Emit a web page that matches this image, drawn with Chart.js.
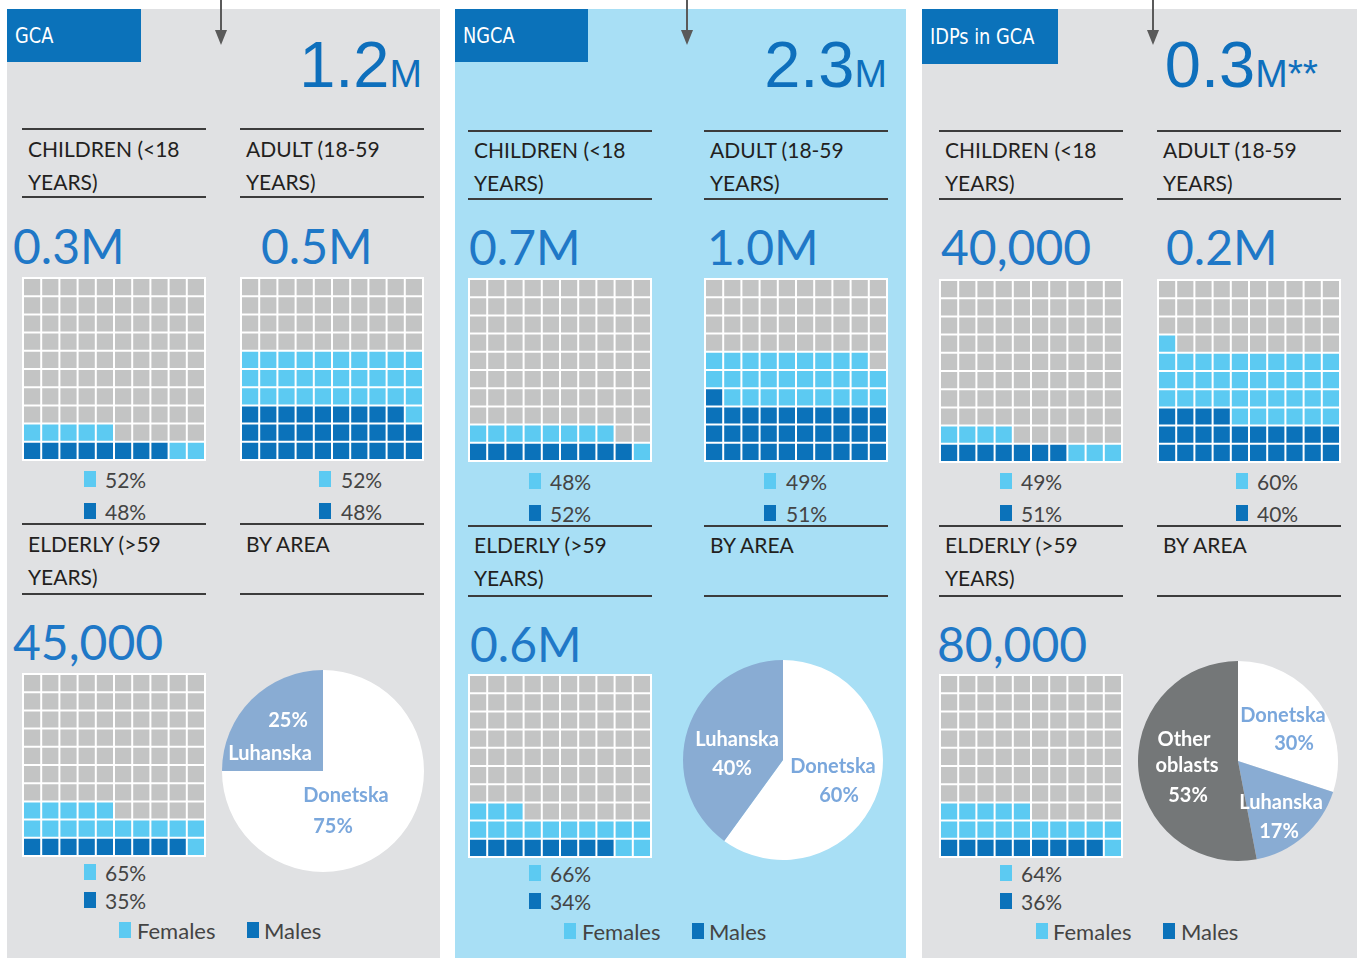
<!DOCTYPE html>
<html>
<head>
<meta charset="utf-8">
<script src="https://cdn.jsdelivr.net/npm/chart.js@4"></script>
<style>
  body { margin: 0; width: 1362px; height: 958px; background: #fff; position: relative; overflow: hidden; font-family: Lato, "Open Sans", sans-serif; }
  .abs { position: absolute; white-space: nowrap; }
  .txt { transform: translateY(-50%); color: #231f20; font-size: 21px; }
  canvas { position: absolute; }
</style>
</head>
<body>
<script>
// data
const panelTitles = ['GCA', 'NGCA', 'IDPs in GCA'];
const panelTotals = ['1.2', '2.3', '0.3'];
const panelTotalUnits = ['M', 'M', 'M**'];
const groupLines = [['CHILDREN (<18', 'YEARS)'], ['ADULT (18-59', 'YEARS)'], ['ELDERLY (>59', 'YEARS)']];

const gcaValues = ['0.3M', '0.5M', '45,000'];
const gcaMaleCells = [8, 29, 9];
const gcaFemaleCells = [7, 31, 16];
const gcaFemalePct = ['52%', '52%', '65%'];
const gcaMalePct = ['48%', '48%', '35%'];

const ngcaValues = ['0.7M', '1.0M', '0.6M'];
const ngcaMaleCells = [9, 31, 8];
const ngcaFemaleCells = [9, 28, 15];
const ngcaFemalePct = ['48%', '49%', '66%'];
const ngcaMalePct = ['52%', '51%', '34%'];

const idpValues = ['40,000', '0.2M', '80,000'];
const idpMaleCells = [7, 24, 9];
const idpFemaleCells = [7, 37, 16];
const idpFemalePct = ['49%', '60%', '64%'];
const idpMalePct = ['51%', '40%', '36%'];

const gcaAreas = ['Donetska', 'Luhanska'];
const gcaAreaPct = [75, 25];
const ngcaAreas = ['Donetska', 'Luhanska'];
const ngcaAreaPct = [60, 40];
const idpAreas = ['Donetska', 'Luhanska', 'Other oblasts'];
const idpAreaPct = [30, 17, 53];

const waffleCols = ['1', '2', '3', '4', '5', '6', '7', '8', '9', '10'];
const waffleRows = 10;

// colours
const DARK = '#0b72ba';
const LIGHT = '#5ccaf2';
const GREY = '#c3c4c4';
const VALUE_BLUE = '#1f78c7';
const AREA_COLORS = { 'Donetska': '#ffffff', 'Luhanska': '#89acd3', 'Other oblasts': '#747778' };
const AREA_TEXT = { 'Donetska': '#7aa7dc', 'Luhanska': '#ffffff', 'Other oblasts': '#ffffff' };

// layout per panel
const layouts = [
  { x: 7, w: 433, tabW: 134, tabH: 53, arrow: 221, totalRight: 422, cols: [22, 240],
    l1: 129, t1: [148, 181], l2: 197, v1: 245, vx: [13, 261], g1: 277, lg1: [479, 511], sq1: [84, 319], tx1: [105, 341],
    l3: 524, t3: [543, 576], l4: 594, v2: 641, vx2: 13, g2: 673, lg2: [872, 900],
    bottom: 930, fem: [119, 137], male: [247, 264], pie: [323, 771, 101] },
  { x: 455, w: 451, tabW: 133, tabH: 53, arrow: 687, totalRight: 887, cols: [468, 704],
    l1: 131, t1: [149, 182], l2: 199, v1: 246, vx: [469, 707], g1: 278, lg1: [481, 513], sq1: [529, 764], tx1: [550, 786],
    l3: 526, t3: [544, 577], l4: 596, v2: 643, vx2: 470, g2: 674, lg2: [873, 901],
    bottom: 931, fem: [564, 582], male: [692, 709], pie: [783, 760, 100] },
  { x: 922, w: 435, tabW: 136, tabH: 55, arrow: 1153, totalRight: 1318, cols: [939, 1157],
    l1: 131, t1: [149, 182], l2: 199, v1: 246, vx: [941, 1166], g1: 279, lg1: [481, 513], sq1: [1000, 1236], tx1: [1021, 1257],
    l3: 526, t3: [544, 577], l4: 596, v2: 643, vx2: 937, g2: 674, lg2: [873, 901],
    bottom: 931, fem: [1036, 1053], male: [1163, 1181], pie: [1238, 761, 100] }
];
const panelBg = ['#e0e1e3', '#a8dff5', '#e0e1e3'];
const GRID = 184;

// pie label offsets from centre (px), one list of lines per slice
const pieLabels = [
  [[['Donetska', 23, 25], ['75%', 10, 56]], [['25%', -35, -50], ['Luhanska', -53, -17]]],
  [[['Donetska', 50, 7], ['60%', 56, 36]], [['Luhanska', -46, -20], ['40%', -51, 9]]],
  [[['Donetska', 45, -45], ['30%', 56, -17]], [['Luhanska', 43, 42], ['17%', 41, 71]],
   [['Other', -54, -21], ['oblasts', -51, 5], ['53%', -50, 35]]]
];

function el(tag, cls, css, html) {
  const e = document.createElement(tag);
  if (cls) e.className = cls;
  Object.assign(e.style, css);
  if (html !== undefined) e.innerHTML = html;
  document.body.appendChild(e);
  return e;
}
function box(x, y, w, h, color) {
  return el('div', 'abs', { left: x + 'px', top: y + 'px', width: w + 'px', height: h + 'px', background: color });
}
function text(x, y, str, css) {
  return el('div', 'abs txt', Object.assign({ left: x + 'px', top: y + 'px' }, css || {}), str);
}

function waffle(x, y, males, females) {
  const c = document.createElement('canvas');
  c.width = GRID; c.height = GRID;
  c.style.left = x + 'px'; c.style.top = y + 'px';
  c.style.background = '#fff';
  document.body.appendChild(c);
  const datasets = [];
  for (let r = 0; r < waffleRows; r++) {
    datasets.push({
      data: waffleCols.map(() => 1),
      backgroundColor: waffleCols.map((_, col) => {
        const i = r * waffleCols.length + col;
        return i < males ? DARK : (i < males + females ? LIGHT : GREY);
      }),
      borderColor: '#ffffff',
      borderWidth: 1,
      borderSkipped: false,
      inflateAmount: 0,
      categoryPercentage: 1,
      barPercentage: 1
    });
  }
  new Chart(c, {
    type: 'bar',
    data: { labels: waffleCols, datasets },
    options: {
      responsive: false, animation: false,
      layout: { padding: 1 },
      plugins: { legend: { display: false }, tooltip: { enabled: false } },
      scales: {
        x: { stacked: true, display: false },
        y: { stacked: true, display: false, min: 0, max: waffleRows }
      }
    }
  });
}

const pieText = {
  id: 'pieText',
  afterDatasetsDraw(chart, args, opts) {
    const ctx = chart.ctx;
    const arc = chart.getDatasetMeta(0).data[0];
    ctx.save();
    ctx.font = 'bold 20px Lato, "Open Sans", sans-serif';
    ctx.textAlign = 'center';
    ctx.textBaseline = 'middle';
    opts.labels.forEach((lines, i) => {
      ctx.fillStyle = AREA_TEXT[chart.data.labels[i]];
      lines.forEach(([s, dx, dy]) => ctx.fillText(s, arc.x + dx, arc.y + dy));
    });
    ctx.restore();
  }
};

function pie(cx, cy, r, labels, values, labelDefs) {
  const size = 2 * r + 8;
  const c = document.createElement('canvas');
  c.width = size; c.height = size;
  c.style.left = (cx - size / 2) + 'px'; c.style.top = (cy - size / 2) + 'px';
  document.body.appendChild(c);
  new Chart(c, {
    type: 'pie',
    data: { labels, datasets: [{ data: values, backgroundColor: labels.map(l => AREA_COLORS[l]), borderWidth: 0 }] },
    options: {
      responsive: false, animation: false,
      layout: { padding: 4 },
      plugins: { legend: { display: false }, tooltip: { enabled: false }, pieText: { labels: labelDefs } }
    },
    plugins: [pieText]
  });
}

const panels = [
  [gcaValues, gcaMaleCells, gcaFemaleCells, gcaFemalePct, gcaMalePct, gcaAreas, gcaAreaPct],
  [ngcaValues, ngcaMaleCells, ngcaFemaleCells, ngcaFemalePct, ngcaMalePct, ngcaAreas, ngcaAreaPct],
  [idpValues, idpMaleCells, idpFemaleCells, idpFemalePct, idpMalePct, idpAreas, idpAreaPct]
];

panels.forEach(([values, maleCells, femaleCells, femPct, malePct, areas, areaPct], p) => {
  const L = layouts[p];
  box(L.x, 9, L.w, 958 - 9, panelBg[p]);
  box(L.x, 9, L.tabW, L.tabH, '#0b72ba');
  text(L.x + 8, 9 + L.tabH / 2, panelTitles[p],
    { color: '#fff', fontFamily: '"DejaVu Sans Condensed", "Liberation Sans Narrow", sans-serif', fontSize: '21px',
      transform: 'translateY(-50%) scaleX(0.94)', transformOrigin: 'left center' });
  // arrow
  box(L.arrow - 1, 0, 2, 33, '#5a5a5a');
  el('div', 'abs', { left: (L.arrow - 6) + 'px', top: '30px', width: 0, height: 0,
    borderLeft: '6px solid transparent', borderRight: '6px solid transparent', borderTop: '15px solid #5a5a5a' });
  // total
  el('div', 'abs', { right: (1362 - L.totalRight) + 'px', top: '25px', color: '#0e6fbc',
    fontFamily: '"Liberation Sans", Arial, sans-serif', fontSize: '65px', lineHeight: '80px' },
    panelTotals[p] + '<span style="font-size:39px">' + panelTotalUnits[p] + '</span>');

  // top two groups
  [0, 1].forEach(g => {
    const cx = L.cols[g];
    box(cx, L.l1 - 1, GRID, 2, '#3c3c3c');
    box(cx, L.l2 - 1, GRID, 2, '#3c3c3c');
    text(cx + 6, L.t1[0], groupLines[g][0]);
    text(cx + 6, L.t1[1], groupLines[g][1]);
    text(L.vx[g], L.v1, values[g], { color: VALUE_BLUE, fontSize: '48px' });
    waffle(cx, L.g1, maleCells[g], femaleCells[g]);
    box(L.sq1[g], L.lg1[0] - 8, 12, 16, LIGHT);
    text(L.tx1[g], L.lg1[0], femPct[g], { color: '#444' });
    box(L.sq1[g], L.lg1[1] - 8, 12, 16, DARK);
    text(L.tx1[g], L.lg1[1], malePct[g], { color: '#444' });
  });

  // elderly + by area
  const c0 = L.cols[0], c1 = L.cols[1];
  [c0, c1].forEach(cx => {
    box(cx, L.l3 - 1, GRID, 2, '#3c3c3c');
    box(cx, L.l4 - 1, GRID, 2, '#3c3c3c');
  });
  text(c0 + 6, L.t3[0], groupLines[2][0]);
  text(c0 + 6, L.t3[1], groupLines[2][1]);
  text(c1 + 6, L.t3[0], 'BY AREA');
  text(L.vx2, L.v2, values[2], { color: VALUE_BLUE, fontSize: '48px' });
  waffle(c0, L.g2, maleCells[2], femaleCells[2]);
  box(L.sq1[0], L.lg2[0] - 8, 12, 16, LIGHT);
  text(L.tx1[0], L.lg2[0], femPct[2], { color: '#444' });
  box(L.sq1[0], L.lg2[1] - 8, 12, 16, DARK);
  text(L.tx1[0], L.lg2[1], malePct[2], { color: '#444' });

  // bottom legend
  box(L.fem[0], L.bottom - 8, 12, 16, LIGHT);
  text(L.fem[1], L.bottom, 'Females', { color: '#444', fontSize: '22px' });
  box(L.male[0], L.bottom - 8, 12, 16, DARK);
  text(L.male[1], L.bottom, 'Males', { color: '#444', fontSize: '22px' });

  pie(L.pie[0], L.pie[1], L.pie[2], areas, areaPct, pieLabels[p]);
});
</script>
</body>
</html>
